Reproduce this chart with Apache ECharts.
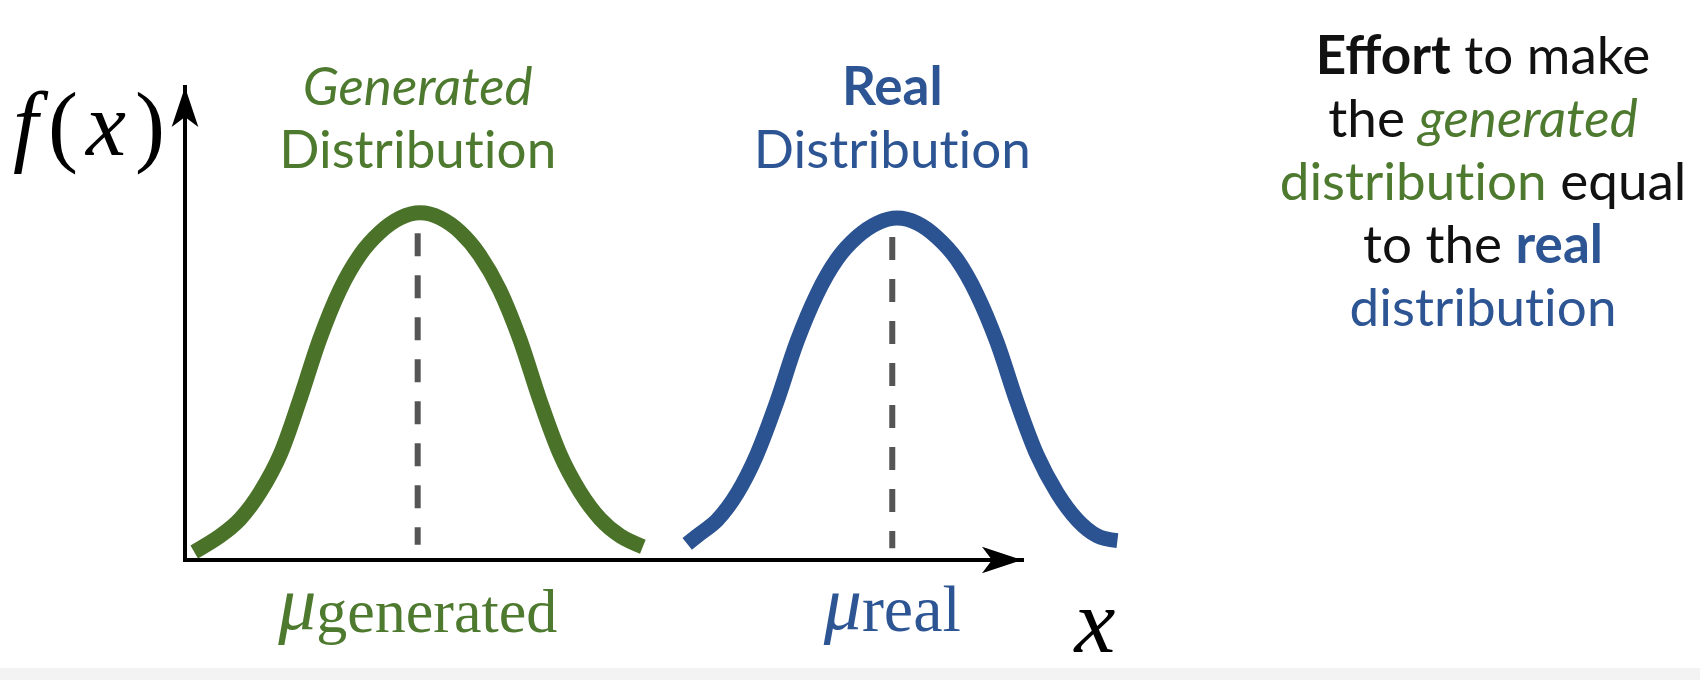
<!DOCTYPE html>
<html>
<head>
<meta charset="utf-8">
<script src="https://cdn.jsdelivr.net/npm/echarts@6/dist/echarts.min.js"></script>
<style>
html,body{margin:0;padding:0;background:#fff;}
#c{width:1700px;height:680px;}
</style>
</head>
<body>
<div id="c"></div>
<script>
// ---- data ----
const generatedX = [0.11, 0.42, 0.66, 0.90, 1.14, 1.37, 1.61, 1.85, 2.09, 2.33, 2.57, 2.81, 3.05, 3.29, 3.52, 3.76, 4.00, 4.24, 4.48, 4.72, 4.96, 5.20, 5.47];
const generatedY = [0.017, 0.051, 0.087, 0.144, 0.224, 0.338, 0.467, 0.571, 0.645, 0.693, 0.723, 0.734, 0.723, 0.693, 0.645, 0.571, 0.467, 0.338, 0.224, 0.144, 0.087, 0.051, 0.028];
const realX = [6.00, 6.12, 6.36, 6.60, 6.83, 7.07, 7.31, 7.55, 7.79, 8.03, 8.27, 8.51, 8.75, 8.98, 9.22, 9.46, 9.70, 9.94, 10.18, 10.42, 10.66, 10.90, 11.14];
const realY = [0.034, 0.051, 0.085, 0.142, 0.222, 0.334, 0.461, 0.562, 0.636, 0.683, 0.712, 0.723, 0.712, 0.683, 0.636, 0.562, 0.461, 0.334, 0.222, 0.142, 0.085, 0.051, 0.041];
const muGenerated = 2.78;
const muReal = 8.45;
const dashGeneratedY = [0.691, 0.032];
const dashRealY = [0.683, 0.025];
const axisXRange = [0, 10];   // span of the drawn x arrow
const dataXRange = [0, 12];   // curves run past the arrow tip
const yRange = [0, 1];
const generatedTitle = ['Generated', 'Distribution'];
const realTitle = ['Real', 'Distribution'];
const muSubGenerated = 'generated';
const muSubReal = 'real';
const effortLines = [
  [['b', 'Effort'], ['n', ' to make']],
  [['n', 'the '], ['gi', 'generated']],
  [['g', 'distribution'], ['n', ' equal']],
  [['n', 'to the '], ['bb', 'real']],
  [['bl', 'distribution']]
];

// ---- styles ----
const GREEN = '#4a7229';
const BLUE = '#2b5291';
const GREEN_T = '#4e7a2f';
const BLUE_T = '#2d5594';
const INK = '#111111';
const SANS = 'Lato';
const SERIF = '"Liberation Serif", "Times New Roman", serif';
const FS = 53;
const SMOOTH = 0.33;
const AX_LEFT = 185, AX_TOP = 87, AX_BOTTOM = 120, AX_RIGHT = 678;
const PX_PER_X = (1700 - AX_LEFT - AX_RIGHT) / (axisXRange[1] - axisXRange[0]);
const DATA_RIGHT = 1700 - AX_LEFT - PX_PER_X * (dataXRange[1] - dataXRange[0]);

const zip = (xs, ys) => xs.map((x, i) => [x, ys[i]]);
// keep Lato from fusing "ti" into a ligature
const noLig = s => s.replace(/ti/g, 't\u200Ci');

const chart = echarts.init(document.getElementById('c'), null, { renderer: 'canvas' });

const arrowAxis = {
  type: 'value',
  gridIndex: 0,
  axisTick: { show: false },
  axisLabel: { show: false },
  splitLine: { show: false },
  axisLine: {
    show: true,
    onZero: false,
    symbol: ['none', 'arrow'],
    symbolSize: [20, 40],
    lineStyle: { color: '#000', width: 4, cap: 'square' }
  }
};
const hiddenAxis = { type: 'value', gridIndex: 1, show: false };

const baseOption = {
  animation: false,
  backgroundColor: '#ffffff',
  grid: [
    { left: AX_LEFT, right: AX_RIGHT, top: AX_TOP, bottom: AX_BOTTOM, containLabel: false, outerBoundsMode: 'none' },
    { left: AX_LEFT, right: DATA_RIGHT, top: AX_TOP, bottom: AX_BOTTOM, containLabel: false, outerBoundsMode: 'none' }
  ],
  xAxis: [
    Object.assign({}, arrowAxis, { min: axisXRange[0], max: axisXRange[1] }),
    Object.assign({}, hiddenAxis, { min: dataXRange[0], max: dataXRange[1] })
  ],
  yAxis: [
    Object.assign({}, arrowAxis, { min: yRange[0], max: yRange[1] }),
    Object.assign({}, hiddenAxis, { min: yRange[0], max: yRange[1] })
  ],
  graphic: [{
    type: 'rect', silent: true, z: -10,
    shape: { x: 0, y: 668, width: 1700, height: 12 },
    style: { fill: '#f3f3f3' }
  }],
  series: [
    {
      type: 'line', name: 'dashGenerated', xAxisIndex: 1, yAxisIndex: 1, symbol: 'none', clip: false, z: 2,
      data: [[muGenerated, dashGeneratedY[0]], [muGenerated, dashGeneratedY[1]]],
      lineStyle: { color: '#555555', width: 6, type: [23, 19], cap: 'butt' }
    },
    {
      type: 'line', name: 'dashReal', xAxisIndex: 1, yAxisIndex: 1, symbol: 'none', clip: false, z: 2,
      data: [[muReal, dashRealY[0]], [muReal, dashRealY[1]]],
      lineStyle: { color: '#555555', width: 6, type: [23, 19], cap: 'butt' }
    },
    {
      type: 'line', name: 'Generated', xAxisIndex: 1, yAxisIndex: 1, symbol: 'none', smooth: SMOOTH, clip: false, z: 3,
      data: zip(generatedX, generatedY),
      lineStyle: { color: GREEN, width: 15, cap: 'butt', join: 'round' }
    },
    {
      type: 'line', name: 'Real', xAxisIndex: 1, yAxisIndex: 1, symbol: 'none', smooth: SMOOTH, clip: false, z: 3,
      data: zip(realX, realY),
      lineStyle: { color: BLUE, width: 15, cap: 'butt', join: 'round' }
    }
  ]
};

chart.setOption(baseOption);

const gx = chart.convertToPixel({ xAxisIndex: 1 }, muGenerated);
const rx = chart.convertToPixel({ xAxisIndex: 1 }, muReal);

const effortText = effortLines.map(line => line.map(([s, t]) => `{${s}|${noLig(t)}}`).join('')).join('\n');

function richSans(color, style, weight) {
  return { fontFamily: SANS, fontSize: FS, lineHeight: 63, color: color, fontStyle: style || 'normal', fontWeight: weight || 'normal' };
}
function richSerif(color, size, lh, italic, extra) {
  return Object.assign({ fontFamily: SERIF, fontSize: size, lineHeight: lh, color: color, fontStyle: italic ? 'italic' : 'normal', fontWeight: 'normal' }, extra || {});
}
const baseText = { fontWeight: 'normal', fontSize: 20, color: '#000' };

chart.setOption({
  title: [
    {
      text: `{gi|${noLig(generatedTitle[0])}}\n{g|${noLig(generatedTitle[1])}}`,
      left: gx, top: 56, textAlign: 'center', textVerticalAlign: 'top', padding: 0,
      textStyle: Object.assign({}, baseText, { rich: { gi: richSans(GREEN_T, 'italic'), g: richSans(GREEN_T) } })
    },
    {
      text: `{bb|${noLig(realTitle[0])}}\n{bl|${noLig(realTitle[1])}}`,
      left: rx, top: 56, textAlign: 'center', textVerticalAlign: 'top', padding: 0,
      textStyle: Object.assign({}, baseText, { rich: { bb: richSans(BLUE_T, 'normal', 'bold'), bl: richSans(BLUE_T) } })
    },
    {
      text: effortText,
      left: 1483, top: 25, textAlign: 'center', textVerticalAlign: 'top', padding: 0,
      textStyle: Object.assign({}, baseText, {
        rich: {
          b: richSans(INK, 'normal', 'bold'),
          n: richSans(INK),
          gi: richSans(GREEN_T, 'italic'),
          g: richSans(GREEN_T),
          bb: richSans(BLUE_T, 'normal', 'bold'),
          bl: richSans(BLUE_T)
        }
      })
    },
    {
      text: '{i|f}{p|(}{x|x}{p|)}',
      left: 90, top: 86, textAlign: 'center', textVerticalAlign: 'top', padding: 0,
      textStyle: Object.assign({}, baseText, {
        rich: {
          i: richSerif('#000', 90, 90, true, { padding: [0, 10, 0, 0] }),
          x: richSerif('#000', 90, 90, true, { padding: [0, 9, 0, 6] }),
          p: richSerif('#000', 90, 90, false, { padding: [0, 2, 0, 0] })
        }
      })
    },
    {
      text: '{x|x}',
      left: 1095, top: 582, textAlign: 'center', textVerticalAlign: 'top', padding: 0,
      textStyle: Object.assign({}, baseText, { rich: { x: richSerif('#000', 92, 92, true) } })
    },
    {
      text: `{m|μ}{s|${muSubGenerated}}`,
      left: gx, top: 571, textAlign: 'center', textVerticalAlign: 'top', padding: 0,
      textStyle: Object.assign({}, baseText, {
        rich: {
          m: richSerif(GREEN_T, 76, 76, true),
          s: richSerif(GREEN_T, 62, 44, false, { verticalAlign: 'bottom' })
        }
      })
    },
    {
      text: `{m|μ}{s|${muSubReal}}`,
      left: rx, top: 571, textAlign: 'center', textVerticalAlign: 'top', padding: 0,
      textStyle: Object.assign({}, baseText, {
        rich: {
          m: richSerif(BLUE_T, 76, 76, true),
          s: richSerif(BLUE_T, 66, 44, false, { verticalAlign: 'bottom' })
        }
      })
    }
  ]
});
</script>
</body>
</html>
